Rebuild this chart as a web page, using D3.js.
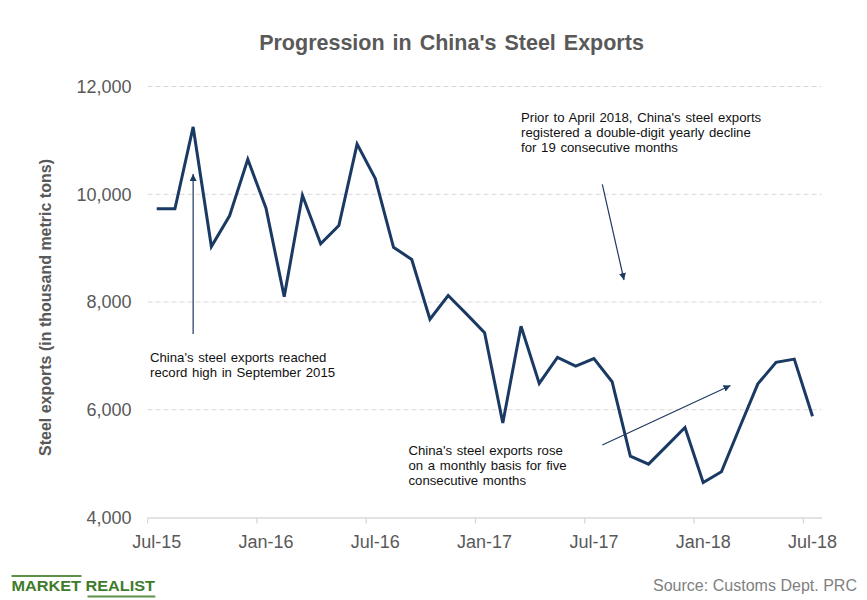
<!DOCTYPE html>
<html>
<head>
<meta charset="utf-8">
<script src="https://cdn.jsdelivr.net/npm/d3@7"></script>
<style>
  html, body { margin: 0; padding: 0; background: #fff; }
  svg { display: block; font-family: "Liberation Sans", Arial, sans-serif; }
</style>
</head>
<body>
<svg id="chart" width="867" height="600"></svg>
<script>
// ---- data ----
const months = [
  "Jul-15","Aug-15","Sep-15","Oct-15","Nov-15","Dec-15",
  "Jan-16","Feb-16","Mar-16","Apr-16","May-16","Jun-16","Jul-16","Aug-16","Sep-16","Oct-16","Nov-16","Dec-16",
  "Jan-17","Feb-17","Mar-17","Apr-17","May-17","Jun-17","Jul-17","Aug-17","Sep-17","Oct-17","Nov-17","Dec-17",
  "Jan-18","Feb-18","Mar-18","Apr-18","May-18","Jun-18","Jul-18"
];
const steelExports = [
  9730, 9730, 11250, 9030, 9600, 10650,
  9740, 8100, 9980, 9080, 9420, 10930, 10290, 9015, 8790, 7680, 8120, 7780,
  7430, 5755, 7550, 6490, 6970, 6810, 6950, 6520, 5140, 4990, 5330, 5670,
  4650, 4850, 5670, 6480, 6880, 6940, 5880
];
const xTickLabels = ["Jul-15","Jan-16","Jul-16","Jan-17","Jul-17","Jan-18","Jul-18"];
const yTicks = [4000, 6000, 8000, 10000, 12000];
const titleText = "Progression in China's Steel Exports";
const yAxisTitle = "Steel exports (in thousand metric tons)";
const annotations = [
  { lines: ["China's steel exports reached", "record high in September 2015"] },
  { lines: ["Prior to April 2018, China's steel exports", "registered a double-digit yearly decline", "for 19 consecutive months"] },
  { lines: ["China's steel exports rose", "on a monthly basis for five", "consecutive months"] }
];
const sourceText = "Source: Customs Dept. PRC";

// ---- layout ----
const svg = d3.select("#chart");
const plotLeft = 147.6, plotRight = 821.6, plotTop = 86.5, plotBottom = 517.5;

const x = d3.scaleBand().domain(months).range([plotLeft, plotRight]).padding(0);
const bw = x.bandwidth();
const cx = m => x(m) + bw / 2;
const y = d3.scaleLinear().domain([4000, 12000]).range([plotBottom, plotTop]);

// gridlines
svg.append("g")
  .selectAll("line")
  .data(yTicks.filter(t => t > 4000))
  .join("line")
  .attr("x1", plotLeft).attr("x2", plotRight)
  .attr("y1", d => y(d)).attr("y2", d => y(d))
  .attr("stroke", "#d9d9d9").attr("stroke-width", 1)
  .attr("stroke-dasharray", "5,3");

// y axis labels
const yAxis = d3.axisLeft(y).tickValues(yTicks).tickFormat(d3.format(",")).tickSize(0).tickPadding(16);
const gy = svg.append("g").attr("transform", `translate(${plotLeft},0)`).call(yAxis);
gy.select(".domain").remove();
gy.selectAll("text")
  .attr("font-family", "'Liberation Sans', Arial, sans-serif")
  .attr("font-size", 18).attr("fill", "#595959");

// x axis
const xAxis = d3.axisBottom(x).tickValues(xTickLabels).tickSize(6).tickSizeOuter(0).tickPadding(12);
const gx = svg.append("g").attr("transform", `translate(0,${plotBottom})`).call(xAxis);
gx.select(".domain").attr("stroke", "#d9d9d9").attr("stroke-width", 1.3);
gx.selectAll(".tick line").attr("stroke", "#d9d9d9").attr("stroke-width", 1.3)
  .attr("transform", `translate(${-bw / 2},0)`);
gx.selectAll("text")
  .attr("font-family", "'Liberation Sans', Arial, sans-serif")
  .attr("font-size", 18).attr("fill", "#595959");

// line
const line = d3.line().x((d, i) => cx(months[i])).y(d => y(d));
svg.append("path")
  .datum(steelExports)
  .attr("d", line)
  .attr("fill", "none")
  .attr("stroke", "#1a3a64")
  .attr("stroke-width", 3)
  .attr("stroke-linejoin", "miter");

// title
svg.append("text")
  .attr("x", 451.5).attr("y", 50)
  .attr("text-anchor", "middle")
  .attr("font-size", 21.5).attr("font-weight", "bold")
  .attr("fill", "#595959")
  .attr("word-spacing", 2)
  .text(titleText);

// y axis title
svg.append("text")
  .attr("transform", `translate(51,307.5) rotate(-90)`)
  .attr("text-anchor", "middle")
  .attr("font-size", 16).attr("font-weight", "bold")
  .attr("fill", "#595959")
  .text(yAxisTitle);

// arrow marker
const defs = svg.append("defs");
defs.append("marker")
  .attr("id", "arrow")
  .attr("viewBox", "0 0 10 10")
  .attr("refX", 10).attr("refY", 5)
  .attr("markerWidth", 7).attr("markerHeight", 7)
  .attr("markerUnits", "userSpaceOnUse")
  .attr("orient", "auto")
  .append("path").attr("d", "M0,0 L10,5 L0,10 z").attr("fill", "#1f3a60");

// annotation arrows
const arrowColor = "#1f3a60";
const arrows = [
  { x1: cx("Sep-15"), y1: 334, x2: cx("Sep-15"), y2: 174 },
  { x1: 602.3, y1: 184.3, x2: 624, y2: 280 },
  { x1: 602.3, y1: 445, x2: 730.5, y2: 385.5 }
];
svg.append("g").selectAll("line").data(arrows).join("line")
  .attr("x1", d => d.x1).attr("y1", d => d.y1)
  .attr("x2", d => d.x2).attr("y2", d => d.y2)
  .attr("stroke", arrowColor).attr("stroke-width", 1.2)
  .attr("marker-end", "url(#arrow)");

// annotation texts
const annoPos = [
  { x: 150, y: 361.5 },
  { x: 521, y: 121.5 },
  { x: 408.5, y: 455 }
];
annotations.forEach((a, i) => {
  const t = svg.append("text")
    .attr("x", annoPos[i].x).attr("y", annoPos[i].y)
    .attr("font-size", 13.2).attr("fill", "#111")
    .attr("word-spacing", 1);
  a.lines.forEach((l, j) => {
    t.append("tspan").attr("x", annoPos[i].x).attr("dy", j === 0 ? 0 : 15.2).text(l);
  });
});

// footer: brand
const green = "#3e7b2c";
svg.append("text")
  .attr("x", 11.5).attr("y", 591)
  .attr("font-size", 15).attr("font-weight", "bold")
  .attr("fill", green)
  .attr("textLength", 143.5).attr("lengthAdjust", "spacingAndGlyphs")
  .text("MARKET REALIST");
svg.append("line").attr("x1", 11.5).attr("x2", 81.5).attr("y1", 576).attr("y2", 576)
  .attr("stroke", "#5c9146").attr("stroke-width", 2);
svg.append("line").attr("x1", 87.5).attr("x2", 155.3).attr("y1", 596.5).attr("y2", 596.5)
  .attr("stroke", "#5c9146").attr("stroke-width", 2);

// footer: source
svg.append("text")
  .attr("x", 857).attr("y", 591)
  .attr("text-anchor", "end")
  .attr("font-size", 16).attr("fill", "#7f7f7f")
  .attr("textLength", 204).attr("lengthAdjust", "spacingAndGlyphs")
  .text(sourceText);
</script>
</body>
</html>
